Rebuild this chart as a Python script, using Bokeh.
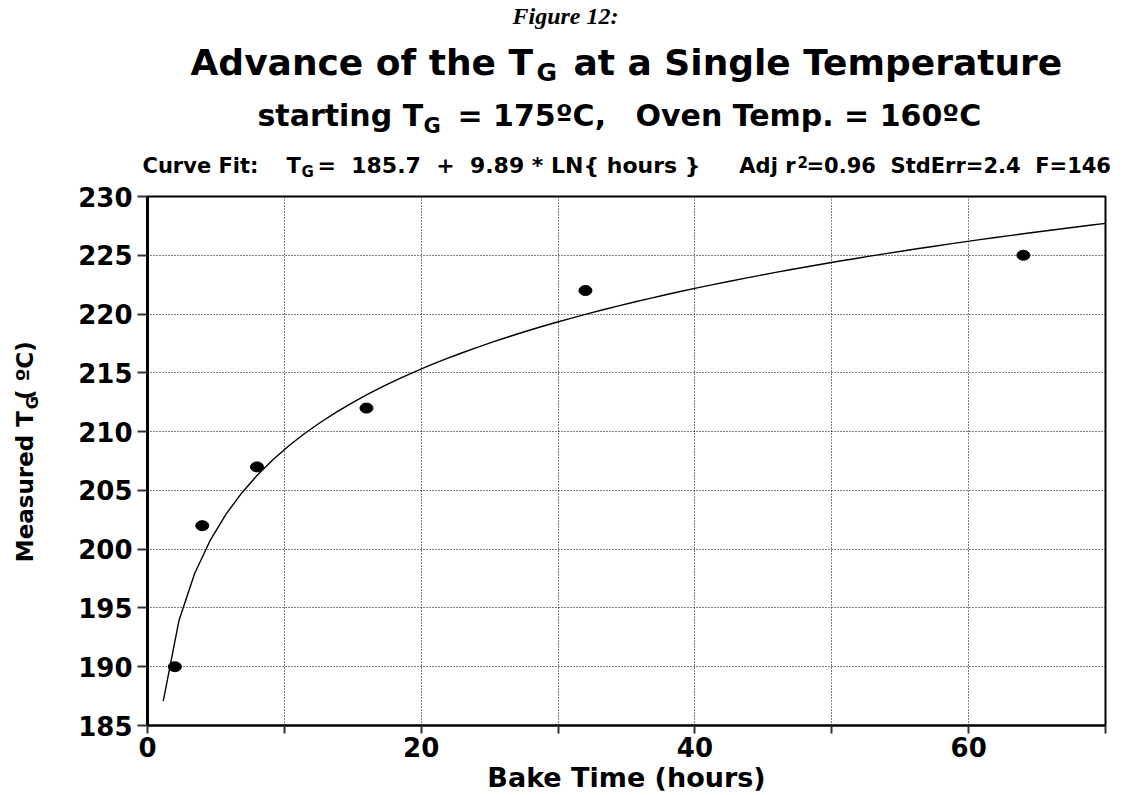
import math

from bokeh.plotting import figure
from bokeh.layouts import column, row
from bokeh.models import Label, FixedTicker, Range1d
from bokeh.embed import file_html
from bokeh.resources import INLINE

# Measured glass transition after baking at 160 C
bake_hours = [2, 4, 8, 16, 32, 64]
measured_tg = [190, 202, 207, 212, 222, 225]

# Logarithmic fit stated in the heading: TG = a + b * ln(hours)
fit_intercept = 185.7
fit_slope = 9.89
fit_start = 1.15
fit_end = 70.0
fit_steps = 60

x_ticks = [0, 10, 20, 30, 40, 50, 60, 70]
x_tick_text = {0: "0", 10: "", 20: "20", 30: "", 40: "40", 50: "", 60: "60", 70: ""}
x_grid_ticks = [10, 20, 30, 40, 50, 60]
y_ticks = [185, 190, 195, 200, 205, 210, 215, 220, 225, 230]
y_grid_ticks = [190, 195, 200, 205, 210, 215, 220, 225]

SANS = "DejaVu Sans"
NB = "\u00a0"   # keeps doubled spaces from collapsing in SVG text

# page layout (pixels)
PAGE_W = 1122
HEAD_H = 181          # headings strip
SIDE_W = 60           # strip holding the vertical axis title
MAIN_W = PAGE_W - SIDE_W
MAIN_TOP = 196 - HEAD_H
MAIN_BOTTOM = 69
MAIN_H = MAIN_TOP + 530 + MAIN_BOTTOM

# labels are anchored a little below the requested baseline; pull them up
BASE_SHIFT = 0.33

fit_x = [fit_start + i * (fit_end - fit_start) / fit_steps for i in range(fit_steps + 1)]
fit_y = [fit_intercept + fit_slope * math.log(h) for h in fit_x]


def text_panel(w, h):
    """A blank figure whose data space is its own pixel grid (y down)."""
    f = figure(width=w, height=h, x_range=Range1d(0, w), y_range=Range1d(h, 0),
               x_axis_type=None, y_axis_type=None,
               output_backend="svg", toolbar_location=None, min_border=0,
               background_fill_color="white", border_fill_color="white")
    f.outline_line_color = None
    return f


def put(f, text, x, y, size, align="left", font=SANS, style="bold", rotated=False):
    shift = BASE_SHIFT * size
    if rotated:
        x, angle = x - shift, math.pi / 2
    else:
        y, angle = y - shift, 0.0
    f.add_layout(Label(
        x=x, y=y, text=text, text_font=font, text_font_style=style,
        text_font_size=f"{size}px", text_color="black", text_align=align,
        text_baseline="alphabetic", angle=angle,
    ))


# ---- main chart -------------------------------------------------------
p = figure(
    width=MAIN_W, height=MAIN_H,
    x_range=Range1d(0, 70), y_range=Range1d(185, 230),
    output_backend="svg", toolbar_location=None,
    min_border_left=87, min_border_right=17,
    min_border_top=MAIN_TOP, min_border_bottom=MAIN_BOTTOM,
    background_fill_color="white", border_fill_color="white",
)
p.outline_line_color = "black"
p.outline_line_width = 2

for ax in (p.xaxis[0], p.yaxis[0]):
    ax.major_label_text_font = SANS
    ax.major_label_text_font_style = "bold"
    ax.major_label_text_font_size = "26px"
    ax.major_label_text_color = "black"
    ax.minor_tick_line_color = None
    ax.major_tick_in = 0
    ax.major_tick_line_color = "#333333"
    ax.major_tick_line_width = 2
    ax.axis_line_color = "black"

p.xaxis.ticker = FixedTicker(ticks=x_ticks)
p.xaxis.major_label_overrides = x_tick_text
p.xaxis.major_tick_out = 8
p.xaxis.major_label_standoff = 3
p.xaxis.axis_line_width = 2
p.xaxis.axis_label = "Bake Time (hours)"
p.xaxis.axis_label_text_font = SANS
p.xaxis.axis_label_text_font_style = "bold"
p.xaxis.axis_label_text_font_size = "27px"
p.xaxis.axis_label_text_color = "black"
p.xaxis.axis_label_standoff = 2

p.yaxis.ticker = FixedTicker(ticks=y_ticks)
p.yaxis.major_tick_out = 10
p.yaxis.major_label_standoff = 5
p.yaxis.axis_line_width = 3

p.xgrid.ticker = FixedTicker(ticks=x_grid_ticks)
p.ygrid.ticker = FixedTicker(ticks=y_grid_ticks)
for g in (p.xgrid[0], p.ygrid[0]):
    g.grid_line_color = "black"
    g.grid_line_width = 1
    g.grid_line_dash = "1 2"

p.line(fit_x, fit_y, line_color="black", line_width=1.4)
p.ellipse(x=bake_hours, y=measured_tg, width=13, height=10,
          width_units="screen", height_units="screen",
          fill_color="black", line_color="black")

# ---- headings -----------------------------------------------------------
head = text_panel(PAGE_W, HEAD_H)
put(head, "Figure 12:", 565, 23, 24, align="center",
    font="Liberation Serif", style="bold italic")

put(head, "Advance of the T", 190, 74, 36)
put(head, "G", 536, 80, 25)
put(head, "at a Single Temperature", 573, 74, 36)

put(head, "starting T", 257, 125, 30)
put(head, "G", 423, 132, 21)
put(head, "= 175ºC,", 457, 125, 30)
put(head, "Oven Temp. = 160ºC", 635, 125, 30)

put(head, "Curve Fit:", 142, 172, 21)
put(head, "T", 286, 172, 21)
put(head, "G", 301, 176, 15)
put(head, f"= {NB}185.7 {NB}+ {NB}9.89 * LN{{ hours }}", 317, 172, 22)
put(head, "Adj r", 795, 172, 21, align="right")
put(head, "2", 797, 166, 15)
put(head, f"=0.96 {NB}StdErr=2.4 {NB}F=146", 806, 172, 21)

# ---- vertical axis title ------------------------------------------------
side = text_panel(SIDE_W, MAIN_H)
put(side, "Measured T", 32, 430 - HEAD_H, 23, align="right", rotated=True)
put(side, "G", 37, 428 - HEAD_H, 16, rotated=True)
put(side, "( ºC)", 32, 349 - HEAD_H, 23, align="right", rotated=True)

page = column(head, row(side, p, spacing=0), spacing=0)
open("out.html", "w").write(file_html(page, INLINE))
